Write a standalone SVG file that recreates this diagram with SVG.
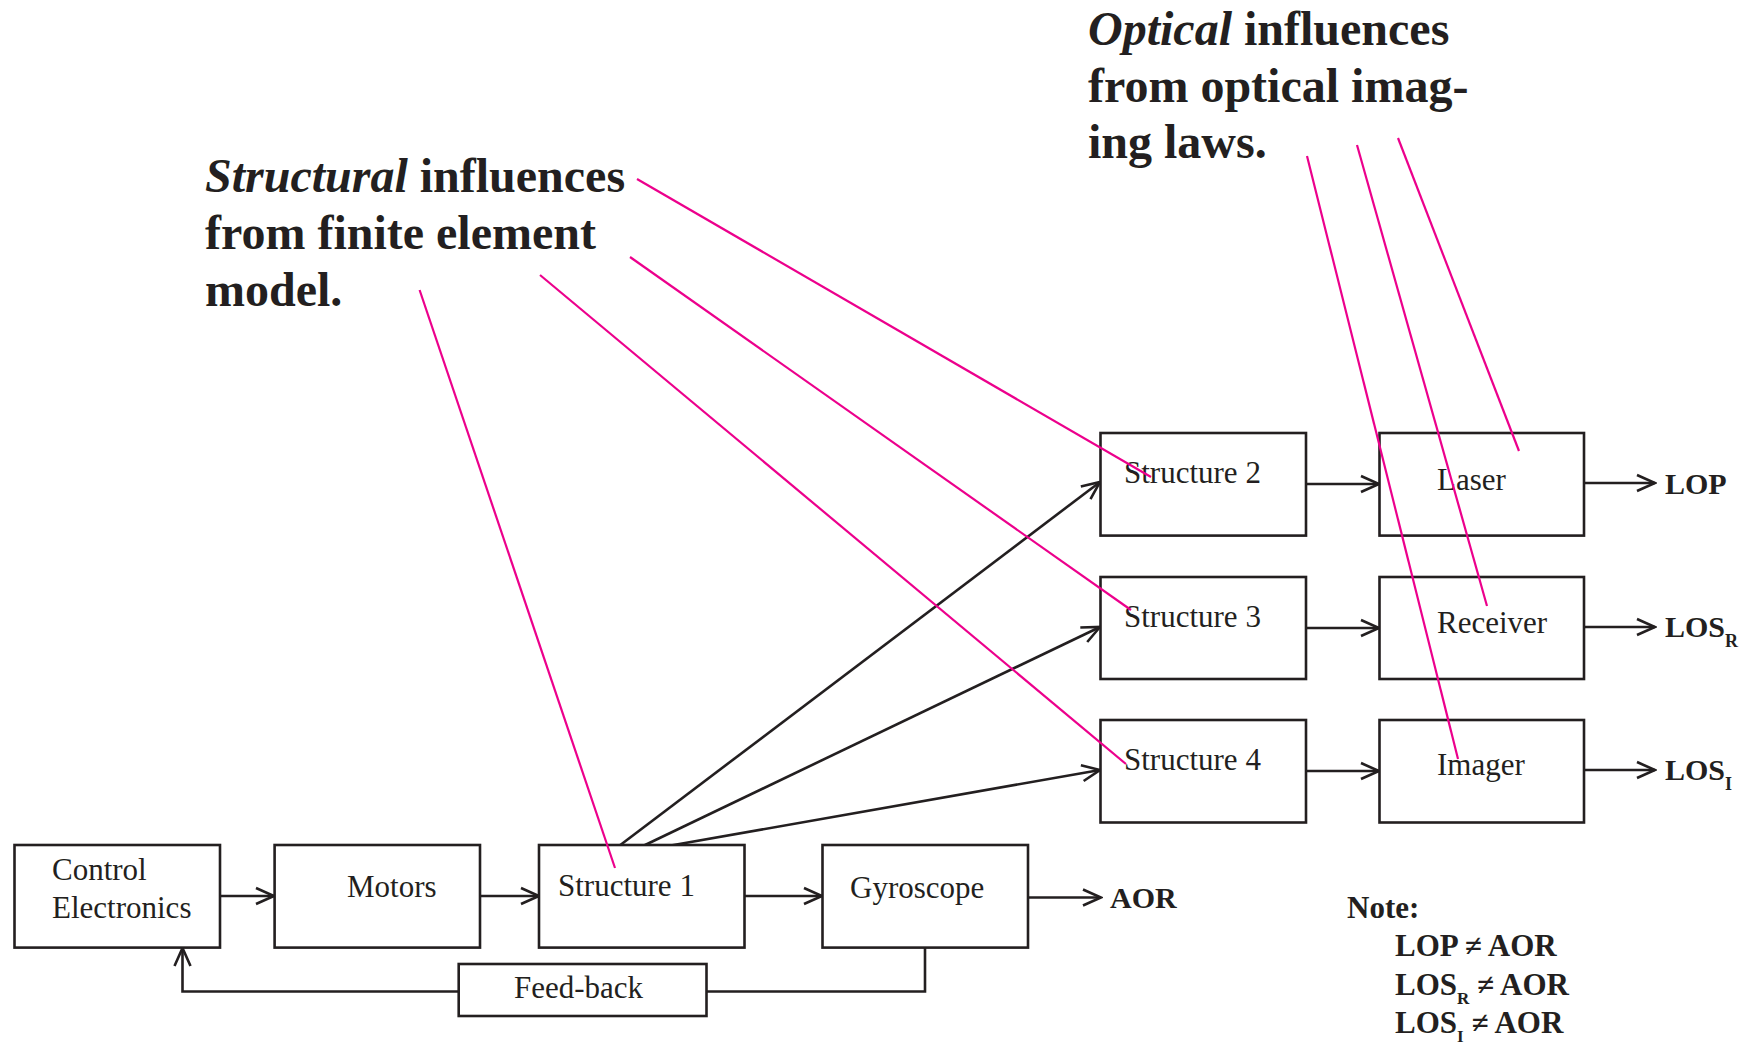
<svg xmlns="http://www.w3.org/2000/svg" width="1750" height="1044" viewBox="0 0 1750 1044">
<defs>
<marker id="arr" markerUnits="userSpaceOnUse" markerWidth="22" markerHeight="20" viewBox="0 0 22 20" refX="20" refY="10" orient="auto">
<path d="M2,2 L20,10 L2,18" fill="none" stroke="#231f20" stroke-width="2.6"/>
</marker>
<style>
.box{fill:#fff;stroke:#231f20;stroke-width:2.6}
.lbl{font-family:"Liberation Serif","Times New Roman",serif;font-size:31px;fill:#231f20}
.out{font-family:"Liberation Serif","Times New Roman",serif;font-size:30px;font-weight:bold;fill:#231f20}
.nt{font-family:"Liberation Serif","Times New Roman",serif;font-size:31px;font-weight:bold;fill:#231f20}
.ann{font-family:"Liberation Serif","Times New Roman",serif;font-size:48px;font-weight:bold;fill:#231f20}
.con{fill:none;stroke:#231f20;stroke-width:2.6}
.mag{fill:none;stroke:#ec008c;stroke-width:2.2}
</style>
</defs>
<rect width="1750" height="1044" fill="#fff"/>

<g id="connectors">
<path class="con" d="M220,896 H274" marker-end="url(#arr)"/>
<path class="con" d="M480,896 H539" marker-end="url(#arr)"/>
<path class="con" d="M744.5,896 H822" marker-end="url(#arr)"/>
<path class="con" d="M1028,897.5 H1101" marker-end="url(#arr)"/>
<path class="con" d="M925,947.6 V991.5 H706.5"/>
<path class="con" d="M458.7,991.5 H182.5 V948" marker-end="url(#arr)"/>
<path class="con" d="M619,846 L1100,482" marker-end="url(#arr)"/>
<path class="con" d="M643,846 L1100,627" marker-end="url(#arr)"/>
<path class="con" d="M668,846 L1100,770" marker-end="url(#arr)"/>
<path class="con" d="M1306,484 H1379" marker-end="url(#arr)"/>
<path class="con" d="M1306,628 H1379" marker-end="url(#arr)"/>
<path class="con" d="M1306,771 H1379" marker-end="url(#arr)"/>
<path class="con" d="M1584,483 H1655" marker-end="url(#arr)"/>
<path class="con" d="M1584,627 H1655" marker-end="url(#arr)"/>
<path class="con" d="M1584,770 H1655" marker-end="url(#arr)"/>
</g>

<g id="control-electronics">
<rect class="box" x="14.5" y="845" width="205.5" height="102.6"/>
<text class="lbl" x="52" y="880">Control</text>
<text class="lbl" x="52" y="918">Electronics</text>
</g>
<g id="motors">
<rect class="box" x="274.6" y="845" width="205.4" height="102.6"/>
<text class="lbl" x="347" y="897">Motors</text>
</g>
<g id="structure-1">
<rect class="box" x="539" y="845" width="205.5" height="102.6"/>
<text class="lbl" x="558" y="896">Structure 1</text>
</g>
<g id="gyroscope">
<rect class="box" x="822.5" y="845" width="205.5" height="102.6"/>
<text class="lbl" x="850" y="898">Gyroscope</text>
</g>
<g id="feed-back">
<rect class="box" x="458.7" y="964" width="247.8" height="52"/>
<text class="lbl" x="514" y="998">Feed-back</text>
</g>
<g id="structure-2">
<rect class="box" x="1100.5" y="433" width="205.5" height="102.6"/>
<text class="lbl" x="1124" y="483">Structure 2</text>
</g>
<g id="structure-3">
<rect class="box" x="1100.5" y="577" width="205.5" height="102"/>
<text class="lbl" x="1124" y="627">Structure 3</text>
</g>
<g id="structure-4">
<rect class="box" x="1100.5" y="720" width="205.5" height="102.5"/>
<text class="lbl" x="1124" y="770">Structure 4</text>
</g>
<g id="laser">
<rect class="box" x="1379.5" y="433" width="204.5" height="102.6"/>
<text class="lbl" x="1437" y="490">Laser</text>
</g>
<g id="receiver">
<rect class="box" x="1379.5" y="577" width="204.5" height="102"/>
<text class="lbl" x="1437" y="633">Receiver</text>
</g>
<g id="imager">
<rect class="box" x="1379.5" y="720" width="204.5" height="102.5"/>
<text class="lbl" x="1437" y="775">Imager</text>
</g>

<g id="outputs">
<text class="out" x="1665" y="494">LOP</text>
<text class="out" x="1665" y="637">LOS<tspan font-size="18" dy="10">R</tspan></text>
<text class="out" x="1665" y="780">LOS<tspan font-size="18" dy="10">I</tspan></text>
<text class="out" x="1110" y="908">AOR</text>
</g>

<g id="note">
<text class="nt" x="1347" y="918">Note:</text>
<text class="nt" x="1395" y="956">LOP ≠ AOR</text>
<text class="nt" x="1395" y="995">LOS<tspan font-size="17" dy="9">R</tspan><tspan dy="-9"> ≠ AOR</tspan></text>
<text class="nt" x="1395" y="1033">LOS<tspan font-size="17" dy="9">I</tspan><tspan dy="-9"> ≠ AOR</tspan></text>
</g>

<g id="structural-annotation">
<text class="ann" x="205" y="192"><tspan font-style="italic">Structural</tspan> influences</text>
<text class="ann" x="205" y="249">from finite element</text>
<text class="ann" x="205" y="306">model.</text>
</g>
<g id="optical-annotation">
<text class="ann" x="1088" y="45"><tspan font-style="italic">Optical</tspan> influences</text>
<text class="ann" x="1088" y="102">from optical imag-</text>
<text class="ann" x="1088" y="158">ing laws.</text>
</g>

<g id="influence-lines">
<line class="mag" x1="419.6" y1="290" x2="615" y2="868"/>
<line class="mag" x1="540" y1="275" x2="1126" y2="764"/>
<line class="mag" x1="630" y1="257" x2="1131" y2="610"/>
<line class="mag" x1="637" y1="179" x2="1151" y2="477"/>
<line class="mag" x1="1307" y1="156" x2="1458" y2="759"/>
<line class="mag" x1="1357" y1="145" x2="1487" y2="606"/>
<line class="mag" x1="1398" y1="138" x2="1519" y2="451"/>
</g>
</svg>
